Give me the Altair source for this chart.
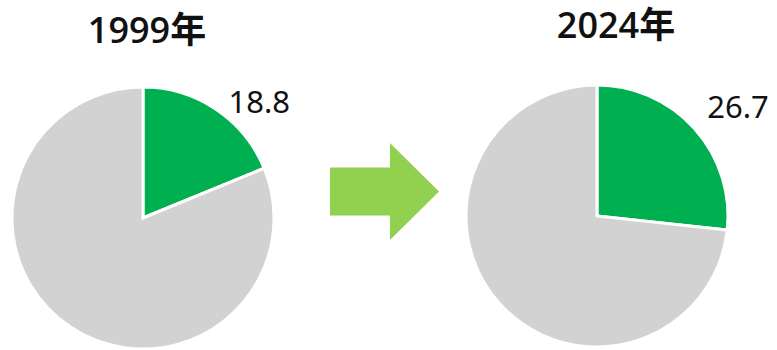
import altair as alt
import pandas as pd

# Share of the highlighted segment in each year (%)
years = ["1999年", "2024年"]
shares = [18.8, 26.7]
segments = ["対象", "その他"]
segment_colors = ["#00b050", "#d2d2d2"]
arrow_color = "#92d050"

FONT = "Noto Sans, Noto Sans CJK JP"
TITLE_FONT = "Open Sans, Noto Sans CJK JP"

# Pie placement and label tweaks per year
centers = [(143, 218), (597, 216)]
pie_radius = 131
label_radius = [137, 160]
label_dx = [40, 22]
title_pos = [(147, 42.5), (616, 37.5)]


def pie_frame(share):
    return pd.DataFrame({
        "segment": segments,
        "value": [share, round(100 - share, 1)],
        "order": [0, 1],
        "label": [f"{share:.1f}", ""],
    })


color_scale = alt.Scale(domain=segments, range=segment_colors)

layers = []
for i, year in enumerate(years):
    df = pie_frame(shares[i])
    cx, cy = centers[i]
    base = alt.Chart(df).encode(
        theta=alt.Theta("value:Q", stack=True),
        order=alt.Order("order:Q"),
        x=alt.value(cx),
        y=alt.value(cy),
    )
    arcs = base.mark_arc(
        outerRadius=pie_radius, stroke="white", strokeWidth=3
    ).encode(color=alt.Color("segment:N", scale=color_scale, legend=None))
    labels = base.mark_text(
        radius=label_radius[i], dx=label_dx[i], fontSize=31, font=FONT,
        color="#111111", align="center", baseline="middle",
    ).encode(text="label:N")
    tx, ty = title_pos[i]
    title = alt.Chart(pd.DataFrame({"year": [year]})).mark_text(
        fontSize=36, fontWeight=600, font=TITLE_FONT, color="#111111",
        align="center", baseline="alphabetic",
    ).encode(text="year:N", x=alt.value(tx), y=alt.value(ty))
    layers.append(alt.layer(arcs, labels).resolve_scale(theta="shared"))
    layers.append(title)

# Block arrow between the two pies, drawn as a custom symbol path
arrow_path = "M-1,-0.44 L0.1,-0.44 L0.1,-0.89 L1,0 L0.1,0.89 L0.1,0.44 L-1,0.44 Z"
arrow = alt.Chart(pd.DataFrame({"a": [1]})).mark_point(
    shape=arrow_path, size=109 * 109, filled=True, fill=arrow_color,
    opacity=1, strokeWidth=0,
).encode(x=alt.value(384.5), y=alt.value(191.5))

chart = alt.layer(*layers, arrow).resolve_scale(theta="independent").properties(
    width=777, height=350, autosize=alt.AutoSizeParams(type="none"), padding=0,
).configure_view(stroke=None)

chart.save("out.html", embed_options={"renderer": "svg", "actions": False})
